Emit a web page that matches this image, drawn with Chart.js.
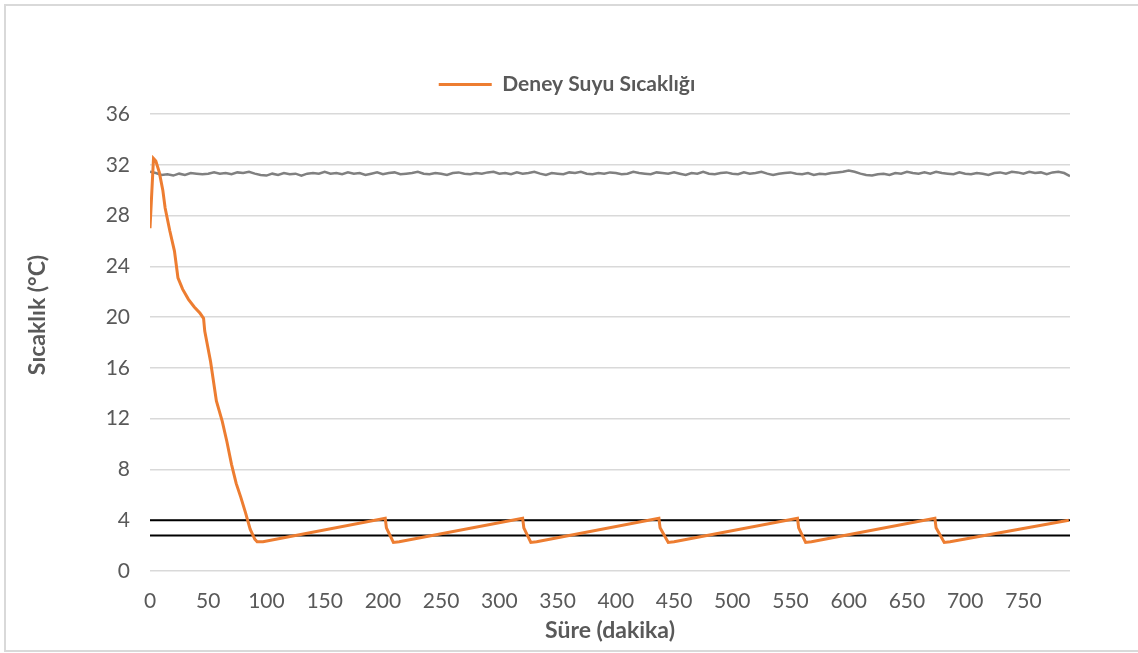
<!DOCTYPE html>
<html>
<head>
<meta charset="utf-8">
<script src="https://cdn.jsdelivr.net/npm/chart.js@4.4.1/dist/chart.umd.min.js"></script>
<style>
  body { margin: 0; background: #fff; }
  #wrap { position: relative; width: 1138px; height: 653px; overflow: hidden; }
  #frame { position: absolute; left: 4px; top: 4px; width: 1140px; height: 644px; border: 2px solid #d9d9d9; }
  #c { position: absolute; left: 0; top: 0; }
</style>
</head>
<body>
<div id="wrap">
  <div id="frame"></div>
  <canvas id="c" width="1138" height="653"></canvas>
</div>
<script>
  // Deney suyu sicakligi (orange), minutes / degC
  const waterTime = [0, 3, 5, 8, 11, 13, 17, 21, 24, 28, 33, 38, 43, 46, 47, 52, 57, 62, 66, 70, 74, 78, 82, 86, 90, 92, 97,
    202, 203, 209, 214, 320, 321, 327, 332, 437, 438, 445, 450, 556, 557, 563, 568, 674, 675, 682, 687, 789];
  const waterTemp = [27.0, 32.5, 32.3, 31.4, 30.0, 28.6, 26.8, 25.2, 23.1, 22.2, 21.4, 20.8, 20.3, 19.9, 18.9, 16.5, 13.4, 11.8, 10.2, 8.4, 6.9, 5.8, 4.6, 3.3, 2.5, 2.3, 2.3,
    4.15, 3.4, 2.25, 2.3, 4.15, 3.4, 2.25, 2.3, 4.15, 3.4, 2.25, 2.3, 4.15, 3.4, 2.25, 2.3, 4.15, 3.4, 2.25, 2.3, 4.0];

  // second (gray) series, sampled every 5 minutes from 0 to 790
  const roomStart = 0;
  const roomStep = 5;
  const roomTemp = [
    31.45, 31.35, 31.2, 31.25, 31.15, 31.3, 31.2, 31.35, 31.3, 31.25,
    31.3, 31.4, 31.3, 31.35, 31.25, 31.4, 31.35, 31.45, 31.3, 31.2,
    31.15, 31.3, 31.2, 31.35, 31.25, 31.3, 31.15, 31.3, 31.35, 31.3,
    31.45, 31.3, 31.35, 31.25, 31.4, 31.3, 31.35, 31.2, 31.3, 31.4,
    31.25, 31.35, 31.4, 31.25, 31.3, 31.35, 31.45, 31.3, 31.25, 31.35,
    31.3, 31.2, 31.35, 31.4, 31.3, 31.25, 31.35, 31.3, 31.4, 31.45,
    31.3, 31.35, 31.25, 31.4, 31.3, 31.35, 31.45, 31.3, 31.2, 31.35,
    31.3, 31.25, 31.4, 31.35, 31.45, 31.3, 31.25, 31.35, 31.3, 31.4,
    31.35, 31.25, 31.3, 31.45, 31.35, 31.3, 31.25, 31.4, 31.35, 31.3,
    31.4, 31.3, 31.2, 31.35, 31.3, 31.45, 31.3, 31.25, 31.35, 31.4,
    31.3, 31.25, 31.4, 31.3, 31.35, 31.45, 31.3, 31.2, 31.3, 31.35,
    31.4, 31.3, 31.25, 31.35, 31.2, 31.3, 31.25, 31.35, 31.4, 31.45,
    31.55, 31.45, 31.3, 31.2, 31.15, 31.25, 31.3, 31.2, 31.35, 31.3,
    31.45, 31.35, 31.3, 31.4, 31.3, 31.45, 31.35, 31.3, 31.25, 31.4,
    31.3, 31.25, 31.35, 31.3, 31.2, 31.35, 31.4, 31.3, 31.45, 31.4,
    31.3, 31.45, 31.35, 31.4, 31.25, 31.4, 31.45, 31.35, 31.1
  ];

  // limit lines
  const limitUpper = 4.0;
  const limitLower = 2.8;
  const limitSpan = [0, 790];

  const yTicks = [0, 4, 8, 12, 16, 20, 24, 28, 32, 36];

  const textColor = '#595959';
  const fontFamily = 'Lato, "Open Sans", sans-serif';

  const waterPoints = waterTime.map((t, i) => ({ x: t, y: waterTemp[i] }));
  const roomPoints = roomTemp.map((v, i) => ({ x: roomStart + i * roomStep, y: v }));
  const upperPoints = limitSpan.map(t => ({ x: t, y: limitUpper }));
  const lowerPoints = limitSpan.map(t => ({ x: t, y: limitLower }));

  // y axis title, drawn a bit above centre like the original
  const yTitlePlugin = {
    id: 'yTitle',
    afterDraw(chart) {
      const c = chart.ctx;
      c.save();
      c.translate(38, 315);
      c.rotate(-Math.PI / 2);
      c.font = 'bold 23px ' + fontFamily;
      c.fillStyle = textColor;
      c.textAlign = 'center';
      c.textBaseline = 'middle';
      c.fillText('Sıcaklık (°C)', 0, 0);
      c.restore();
    }
  };

  // leave some extra room below the legend
  const legendGap = {
    id: 'legendGap',
    beforeLayout(chart) {
      const lg = chart.legend;
      if (!lg || lg._gapPatched) return;
      const fit = lg.fit;
      lg.fit = function () { fit.call(this); this.height += 9; };
      lg._gapPatched = true;
    }
  };

  new Chart(document.getElementById('c').getContext('2d'), {
    type: 'scatter',
    data: {
      datasets: [
        { label: 'Deney Suyu Sıcaklığı', data: waterPoints, showLine: true, borderColor: '#ED7D31', backgroundColor: '#ED7D31', borderWidth: 3, pointRadius: 0, tension: 0 },
        { label: 'room', data: roomPoints, showLine: true, borderColor: '#808080', borderWidth: 2.5, pointRadius: 0 },
        { label: 'upper', data: upperPoints, showLine: true, borderColor: '#000', borderWidth: 2, pointRadius: 0 },
        { label: 'lower', data: lowerPoints, showLine: true, borderColor: '#000', borderWidth: 2, pointRadius: 0 }
      ]
    },
    options: {
      responsive: false,
      animation: false,
      layout: { padding: { left: 64, right: 68, top: 66, bottom: 8 } },
      plugins: {
        tooltip: { enabled: false },
        legend: {
          position: 'top',
          labels: {
            color: textColor,
            font: { family: fontFamily, size: 21, weight: 'bold' },
            boxWidth: 53,
            boxHeight: 3,
            padding: 8,
            filter: item => item.datasetIndex === 0,
            generateLabels: chart => chart.data.datasets.map((ds, i) => ({
              text: ds.label, fillStyle: ds.borderColor, strokeStyle: ds.borderColor,
              lineWidth: 0, fontColor: textColor, datasetIndex: i, hidden: false
            }))
          }
        }
      },
      scales: {
        x: {
          type: 'linear',
          min: 0,
          max: 790,
          afterFit: s => { s.height = 74; },
          border: { display: false },
          grid: { display: false },
          ticks: { stepSize: 50, includeBounds: false, color: textColor, padding: 10, font: { family: fontFamily, size: 21 } },
          title: { display: true, text: 'Süre (dakika)', color: textColor, padding: { top: 4, bottom: 1 }, font: { family: fontFamily, size: 23, weight: 'bold' } }
        },
        y: {
          min: 0,
          max: 36,
          afterFit: s => { s.width = 86; },
          afterBuildTicks: s => { s.ticks = yTicks.map(v => ({ value: v })); },
          border: { display: false },
          grid: { color: '#d9d9d9', lineWidth: 1.5, drawTicks: false },
          ticks: { color: textColor, padding: 20, font: { family: fontFamily, size: 21 } }
        }
      }
    },
    plugins: [yTitlePlugin, legendGap]
  });
</script>
</body>
</html>
